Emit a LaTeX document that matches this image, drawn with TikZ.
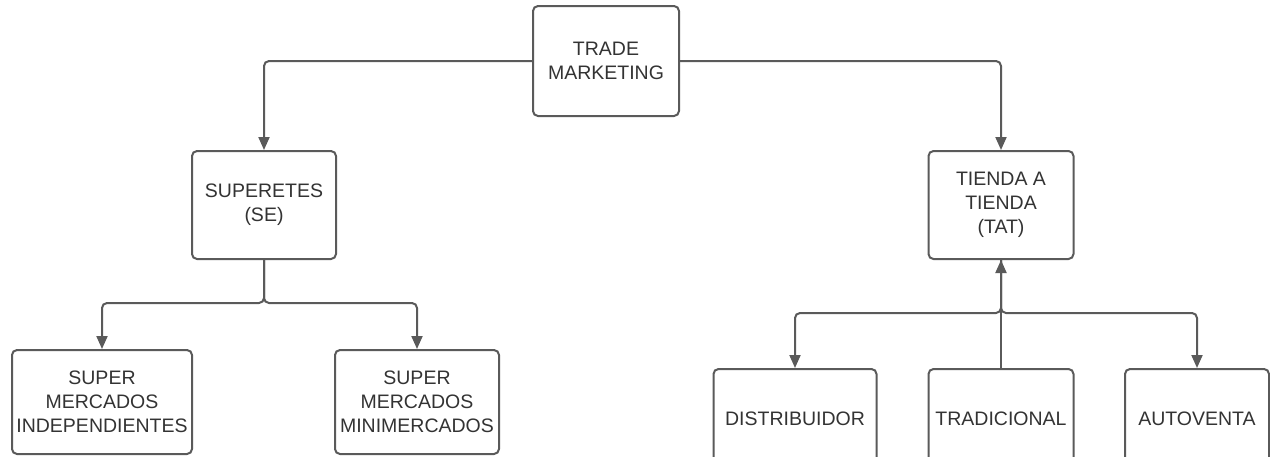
\documentclass[tikz,border=0pt]{standalone}
\usepackage{fontspec}
\setmainfont{Liberation Sans}
\usetikzlibrary{arrows.meta}
\definecolor{linegray}{HTML}{5A5A5A}
\definecolor{textgray}{HTML}{333333}

\begin{document}
\begin{tikzpicture}[
    x=1pt, y=-1pt,
    box/.style={draw=linegray, line width=2pt, rounded corners=5pt, fill=white, text=textgray, align=center, inner sep=2pt, font=\fontsize{19.5}{24}\selectfont},
    arr/.style={-{Triangle[length=13pt, width=11pt]}, draw=linegray, line width=2pt, rounded corners=5pt}
  ]
    \path[use as bounding box, clip] (0,0) rectangle (1270,456);

    \node[box, minimum width=146pt, minimum height=110pt] (tm) at (606,61) {TRADE\\MARKETING};
    \node[box, minimum width=144pt, minimum height=108pt] (se) at (264,205) {SUPERETES\\(SE)};
    \node[box, minimum width=145pt, minimum height=108pt] (tat) at (1001,205) {TIENDA A\\TIENDA\\(TAT)};

    \node[box, anchor=north, minimum width=180pt, minimum height=104pt] (indep) at (102,349) {SUPER\\MERCADOS\\INDEPENDIENTES};
    \node[box, anchor=north, minimum width=164pt, minimum height=104pt] (mini) at (417,349) {SUPER\\MERCADOS\\MINIMERCADOS};

    \node[box, anchor=north, minimum width=163pt, minimum height=100pt] (dist) at (795,368) {DISTRIBUIDOR};
    \node[box, anchor=north, minimum width=145pt, minimum height=100pt] (trad) at (1001,368) {TRADICIONAL};
    \node[box, anchor=north, minimum width=144pt, minimum height=100pt] (auto) at (1197,368) {AUTOVENTA};

    \draw[arr] (tm.west) -| (se.north);
    \draw[arr] (tm.east) -| (tat.north);

    \coordinate (sej) at (264,303);
    \foreach \n in {indep,mini} {
      \draw[arr] (se.south) -- (sej) -| (\n.north);
    }

    \coordinate (tatj) at (1001,313);
    \foreach \n in {dist,auto} {
      \draw[arr] (tat.south) -- (tatj) -| (\n.north);
    }
    \draw[arr] (trad.north) -- (tat.south);
  \end{tikzpicture}
\end{document}
